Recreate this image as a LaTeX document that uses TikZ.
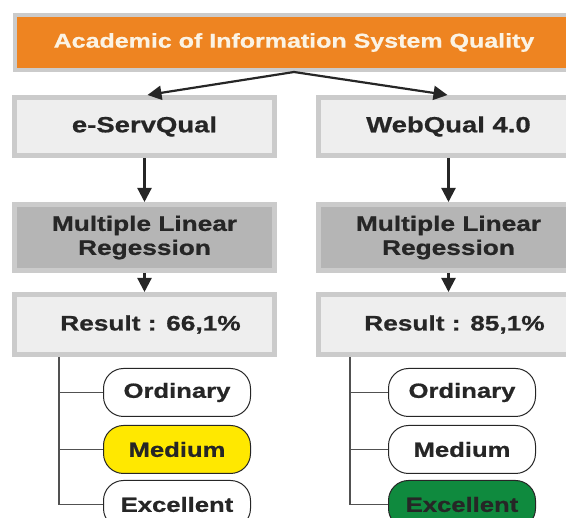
\documentclass[tikz,border=0pt]{standalone}
\usepackage{fontspec}
\setmainfont[FakeStretch=1.25, BoldFeatures={FakeBold=0.8}]{Liberation Sans}
\usepackage{tikz}
\usetikzlibrary{positioning}
\usetikzlibrary{arrows.meta}

\definecolor{headorange}{HTML}{EE8421}
\definecolor{headtext}{HTML}{FBF3E4}
\definecolor{frame}{HTML}{CBCBCB}
\definecolor{lightbox}{HTML}{EEEEEE}
\definecolor{darkbox}{HTML}{B5B5B5}
\definecolor{ink}{HTML}{262626}
\definecolor{medyellow}{HTML}{FFE800}
\definecolor{excgreen}{HTML}{0F8A3E}

\begin{document}
\begin{tikzpicture}[x=1pt, y=-1pt, thick,
    head/.style = {draw=frame, line width=4pt, fill=headorange, text=headtext,
                   minimum width=558pt, minimum height=55pt,
                   font=\bfseries\fontsize{20}{24}\selectfont},
    box/.style = {draw=frame, line width=5pt, fill=lightbox, text=ink,
                  minimum width=260pt, minimum height=58pt,
                  font=\bfseries\fontsize{22}{24}\selectfont},
    mlr/.style = {box, fill=darkbox, minimum height=66pt, align=center,
                  font=\bfseries\fontsize{21}{24}\selectfont},
    result/.style = {box, minimum height=60pt,
                     font=\bfseries\fontsize{21}{24}\selectfont},
    rate/.style = {draw=ink, line width=1pt, fill=white, text=ink,
                   rounded corners=20pt, minimum width=147pt, minimum height=48pt,
                   font=\bfseries\fontsize{20.5}{22}\selectfont},
    arr/.style = {draw=ink, line width=2.2pt, -{Triangle[length=14pt,width=14pt]}},
    branch/.style = {draw=ink!80, line width=1.2pt}]
\useasboundingbox (0,0) rectangle (566,518);
\clip (0,0) rectangle (566,518);
% Nodes
\node[head] (top) at (294,42.5) {Academic of Information System Quality};
\node[box] (es) at (144.5,126.5) {e-ServQual};
\node[box] (wq) at (448.5,126.5) {WebQual 4.0};
\node[mlr] (mlr1) [below=44pt of es] {Multiple Linear\\Regession};
\node[mlr] (mlr2) [below=44pt of wq] {Multiple Linear\\Regession};
\node[result] (res1) [below=19pt of mlr1] {\hspace{12pt}Result : 66,1\%};
\node[result] (res2) [below=19pt of mlr2] {\hspace{12pt}Result : 85,1\%};
\node[rate] (ord1) [below right=11pt and 91pt of res1.south west] {Ordinary};
\node[rate, fill=medyellow] (med1) [below=8pt of ord1] {Medium};
\node[rate] (exc1) [below=6pt of med1] {Excellent};
\node[rate] (ord2) [below right=11pt and 72pt of res2.south west] {Ordinary};
\node[rate] (med2) [below=8pt of ord2] {Medium};
\node[rate, fill=excgreen] (exc2) [below=6pt of med2] {Excellent};
\coordinate (t1) at ([xshift=47pt]res1.south west);
\coordinate (t2) at ([xshift=34pt]res2.south west);
% Edges
\draw[arr] (top.south) -- ([xshift=3pt]es.north);
\draw[arr] (top.south) -- ([xshift=-1pt]wq.north);
\draw[arr] (es) -- (mlr1);
\draw[arr] (wq) -- (mlr2);
\draw[arr] (mlr1) -- (res1);
\draw[arr] (mlr2) -- (res2);
\draw[branch] (t1) |- (exc1.west);
\draw[branch] (t1 |- ord1.west) -- (ord1.west);
\draw[branch] (t1 |- med1.west) -- (med1.west);
\draw[branch] (t2) |- (exc2.west);
\draw[branch] (t2 |- ord2.west) -- (ord2.west);
\draw[branch] (t2 |- med2.west) -- (med2.west);
\end{tikzpicture}
\end{document}
